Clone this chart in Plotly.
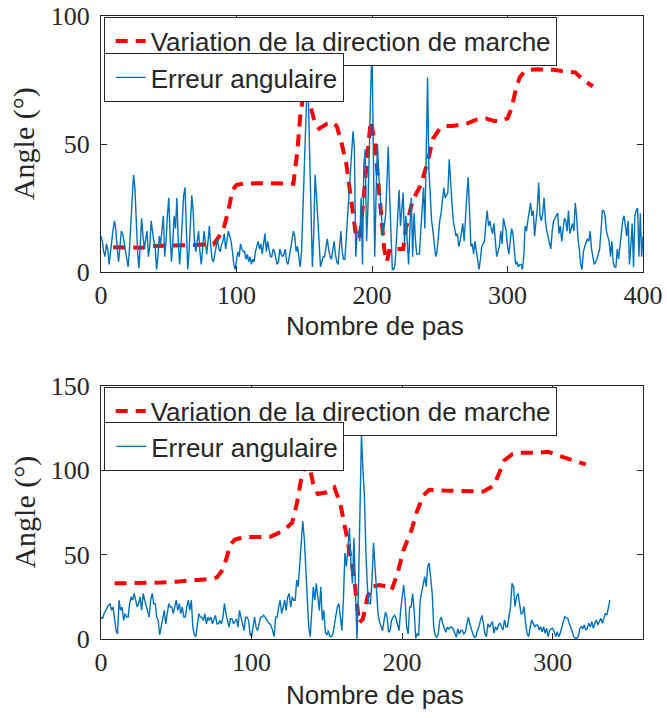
import plotly.graph_objects as go

# ---------------- data: top panel ----------------
top_steps = list(range(0, 401))
top_error = [
    14, 12, 8, 6, 11, 9, 3, 8, 11, 17, 20, 16, 9, 4, 10, 16, 15, 12, 9, 5,
    2, 9, 18, 26, 38, 33, 19, 8, 1.5, 12, 21, 14, 9, 13, 16, 6, 10, 20, 15, 12,
    10, 1, 6, 14, 11, 18, 22, 6, 12, 22, 29, 14, 4, 12, 22, 17, 29, 12, 3, 10,
    20, 30, 33, 12, 1, 8, 18, 30, 24, 11, 8, 13, 16, 8, 3, 9, 16, 12, 7, 12,
    18, 10, 5, 4, 8, 10, 13, 9, 8, 11, 12, 15, 9, 12, 16, 14, 12, 8, 3, 1,
    4, 8, 6, 11, 9, 8, 8, 5, 7, 4, 6, 3, 5, 4, 8, 10, 12, 9, 11, 7,
    12, 15, 8, 12, 9, 6, 6, 9, 8, 5, 3, 4, 9, 7, 6, 7, 9, 4, 3, 6,
    9, 12, 16, 14, 8, 10, 5, 2, 8, 23, 42, 60, 72, 68, 45, 20, 2, 15, 38, 30,
    20, 8, 2, 4, 6, 6, 10, 13, 9, 6, 5, 8, 12, 7, 4, 3, 10, 16, 8, 5,
    5, 14, 20, 30, 36, 45, 55, 48, 6, 15, 16, 12, 29, 3, 42, 48, 12, 25, 55, 70,
    88, 40, 6, 30, 50, 38, 29, 20, 14, 18, 22, 35, 49, 30, 16, 1, 1, 3, 12, 23,
    32, 18, 24, 31, 11, 22, 12, 3, 17, 29, 6, 23, 13, 7, 7, 7, 16, 25, 33, 17,
    47, 76, 40, 29, 20, 16, 10, 6, 8, 16, 20, 23, 28, 33, 29, 30, 31, 44, 33, 27,
    20, 16, 14, 15, 10, 12, 15, 19, 12, 23, 30, 37, 24, 10, 11, 7, 12, 8, 3, 1,
    5, 10, 11, 12, 19, 24, 18, 20, 17, 15, 19, 11, 6, 8, 10, 16, 11, 21, 18, 16,
    10, 7, 12, 17, 15, 7, 3, 4, 2, 3, 3, 1, 6, 18, 16, 20, 23, 27, 22, 24,
    14, 19, 25, 35, 22, 20, 23, 29, 20, 16, 14, 12, 9, 16, 20, 21, 22, 23, 15, 18,
    12, 18, 21, 20, 16, 24, 15, 17, 19, 16, 27, 22, 13, 9, 3, 1, 8, 10, 12, 13,
    12, 16, 9, 6, 3, 4, 5, 7, 9, 16, 24, 24, 22, 16, 14, 12, 6, 12, 4, 2,
    2, 9, 5, 10, 16, 20, 22, 17, 14, 20, 3, 10, 19, 2, 22, 24, 25, 6, 23, 6,
    14,
]
top_dir_steps = [9, 20, 30, 40, 50, 60, 70, 83, 90, 94, 97, 100, 105, 115, 125, 135, 142,
                 145, 147, 150, 154, 158, 161, 167, 171, 174, 177, 181, 185, 188, 191,
                 194, 197, 199, 202, 204, 206, 209, 211, 213, 218, 223, 225, 230, 236,
                 241, 245, 250, 254, 259, 265, 270, 277, 284, 290, 295, 300, 303, 306,
                 309, 312, 317, 322, 328, 334, 340, 346, 350, 356, 363]
top_dir_vals = [9.7, 9.7, 9.5, 10.2, 10.3, 10.5, 10.6, 10.8, 16, 24, 32, 34, 34.6, 34.8,
                34.7, 34.6, 34.5, 47.7, 60.7, 71.8, 66, 58, 56, 58, 58.5, 57, 51.6, 42.4,
                25.4, 15, 13, 30, 47, 59, 51, 38, 25, 9, 4, 9, 9, 9, 17, 28, 34,
                43, 52, 56, 57, 57, 57.5, 58, 59.5, 60, 59, 59, 60, 64, 71, 76, 78, 79,
                79.2, 79.2, 79, 78.5, 78, 78, 75, 72.5]

# ---------------- data: bottom panel ----------------
bot_steps = list(range(0, 339))
bot_error = [
    13, 12, 15, 17, 19, 20, 21, 17, 19, 11, 5, 3, 23, 17, 19, 11, 15, 13, 13, 21,
    25, 23, 27, 23, 19, 21, 25, 17, 27, 23, 19, 17, 13, 23, 27, 21, 21, 13, 11, 2.4,
    7, 13, 17, 9, 15, 21, 19, 19, 15, 19, 23, 17, 21, 15, 19, 13, 13, 19, 23, 17,
    23, 7, 2.4, 1.4, 7, 15, 13, 13, 11, 15, 9, 13, 11, 13, 9, 11, 14, 9, 9, 11,
    9, 13, 21, 15, 11, 7, 12, 12, 9, 11, 12, 7, 17, 13, 9, 5, 13, 13, 11, 3,
    1.4, 9, 13, 7, 5, 9, 13, 13, 14, 13, 11, 10, 9, 8, 5, 1.4, 13, 13, 19, 23,
    15, 19, 23, 17, 25, 27, 19, 25, 23, 23, 35, 31, 43, 55, 70, 60, 40, 23, 7, 1.4,
    19, 31, 23, 33, 25, 17, 31, 11, 17, 4, 2.4, 5, 1.4, 1.4, 3, 8, 13, 19, 21, 13,
    5, 23, 51, 43, 57, 66, 45, 33, 60, 20, 0, 30, 75, 121, 100, 84, 50, 30, 21, 21,
    35, 57, 43, 27, 15, 10, 7, 5, 11, 16, 13, 4, 5, 11, 13, 14, 12, 9, 5, 17,
    23, 32, 23, 7, 3, 19, 19, 27, 17, 0.4, 3, 2, 23, 27, 31, 37, 31, 43, 45, 35,
    27, 7, 2, 1, 3, 11, 13, 9, 7, 4, 7, 6, 7, 7, 6, 4, 1, 6, 3, 5,
    5, 3, 4, 9, 13, 9, 5, 3, 1, 1.4, 5, 7, 11, 14, 9, 3, 1.4, 9, 7, 9,
    10.3, 3.4, 7.3, 5.3, 8.3, 9.3, 7.3, 5.3, 11.3, 7.3, 7.3, 13.2, 19.2, 33, 31, 19.2, 25, 27, 19.2, 15,
    15.2, 19.2, 9.3, 3.4, 1.4, 7.3, 11.3, 9.3, 7.3, 8.3, 8.3, 5.3, 7.3, 4.3, 7.3, 3.4, 6.3, 1.4, 5.3, 6,
    6.3, 4.3, 1.4, 4.3, 1.4, 3.4, 7.3, 11.3, 13.2, 12.5, 12.3, 9.3, 7.3, 4.3, 1.4, 0.4, 0.4, 1.4, 6, 7.3,
    6.3, 8.3, 5.3, 6.3, 9.3, 7.3, 10.3, 6.3, 9.3, 11.3, 8.3, 11, 12.3, 9.3, 13.2, 15.2, 14.2, 19.2, 23,
]
bot_dir_steps = [9, 20, 30, 40, 50, 60, 70, 77, 80, 83, 86, 89, 95, 105, 112, 117, 122, 127,
                 130, 133, 136, 138, 141, 144, 150, 155, 159, 163, 166, 168, 170, 171.5,
                 174, 177, 180, 185, 190, 193, 197, 201, 206, 210, 214, 218, 228, 240,
                 254, 261, 265, 268, 273, 280, 290, 297, 303, 310, 316, 322]
bot_dir_vals = [33, 33, 33.5, 33.5, 34, 34.5, 35.5, 36.5, 40, 47, 56, 59, 60.5, 60.5, 60.5,
                62.5, 65, 69, 80, 95, 104, 104, 92, 86, 87, 90, 80, 62, 48, 37, 21, 9.5,
                12, 25, 31, 32, 31, 29, 39, 53, 64, 76, 85, 88.5, 88, 87.5, 87.5, 91,
                100, 106, 109.5, 110.5, 110.5, 111, 109, 107, 105, 103.5]

name_dir = "Variation de la direction de marche"
name_err = "Erreur angulaire"
top_xticks = [0, 100, 200, 300, 400]
top_yticks = [0, 50, 100]
bot_xticks = [0, 100, 200, 300]
bot_yticks = [0, 50, 100, 150]

RED = "#ff0000"
BLUE = "#0072bd"
DARK = "#262626"
SERIF = "Liberation Serif, Times New Roman, serif"
SANS = "Liberation Sans, Arial, sans-serif"

fig = go.Figure()
fig.add_trace(go.Scatter(x=top_dir_steps, y=top_dir_vals, mode="lines", name=name_dir,
                         line=dict(color=RED, width=4, dash="12px,8px"),
                         xaxis="x", yaxis="y", legend="legend", showlegend=True))
fig.add_trace(go.Scatter(x=top_steps, y=top_error, mode="lines", name=name_err,
                         line=dict(color=BLUE, width=1.4),
                         xaxis="x", yaxis="y", legend="legend2", showlegend=True))
fig.add_trace(go.Scatter(x=bot_dir_steps, y=bot_dir_vals, mode="lines", name=name_dir,
                         line=dict(color=RED, width=4, dash="12px,8px"),
                         xaxis="x2", yaxis="y2", legend="legend3", showlegend=True))
fig.add_trace(go.Scatter(x=bot_steps, y=bot_error, mode="lines", name=name_err,
                         line=dict(color=BLUE, width=1.4),
                         xaxis="x2", yaxis="y2", legend="legend4", showlegend=True))

axis_common = dict(showline=True, linecolor=DARK, linewidth=1, mirror="ticks",
                   ticks="inside", ticklen=6, tickcolor=DARK, showgrid=False,
                   zeroline=False, ticklabeloverflow="allow", automargin=False,
                   tickfont=dict(family=SERIF, size=26, color=DARK))

fig.update_layout(
    width=667, height=718,
    margin=dict(l=101, r=24, t=16, b=79, autoexpand=False),
    showlegend=True,
    paper_bgcolor="white", plot_bgcolor="white",
    xaxis=dict(domain=[0, 1], anchor="y", range=[0, 400], tickvals=top_xticks,
               ticklabelstandoff=0, **axis_common),
    yaxis=dict(domain=[0.589, 1], anchor="x", range=[0, 100], tickvals=top_yticks,
               ticklabelstandoff=5, **axis_common),
    xaxis2=dict(domain=[0, 1], anchor="y2", range=[0, 360], tickvals=bot_xticks,
                ticklabelstandoff=0, **axis_common),
    yaxis2=dict(domain=[0, 0.406], anchor="x2", range=[0, 150], tickvals=bot_yticks,
                ticklabelstandoff=5, **axis_common),
)

legend_common = dict(xanchor="left", yanchor="top", bgcolor="white", bordercolor=DARK,
                     borderwidth=1, indentation=6,
                     font=dict(family=SANS, size=26, color=DARK),
                     itemclick=False, itemdoubleclick=False)
fig.update_layout(
    legend=dict(x=0.005, y=0.999, **legend_common),
    legend2=dict(x=0.005, y=0.9406, **legend_common),
    legend3=dict(x=0.005, y=0.405, **legend_common),
    legend4=dict(x=0.006, y=0.3483, **legend_common),
)

annots = [
    dict(text="Angle (°)", x=-0.142, y=0.7945, textangle=-90),
    dict(text="Angle (°)", x=-0.142, y=0.203, textangle=-90),
]
for a in annots:
    fig.add_annotation(xref="paper", yref="paper", xanchor="center", yanchor="middle",
                       showarrow=False, font=dict(family=SERIF, size=30, color=DARK), **a)
for ty in [0.502, -0.090]:
    fig.add_annotation(text="Nombre de pas", xref="paper", yref="paper", x=0.505, y=ty,
                       xanchor="center", yanchor="middle", showarrow=False,
                       font=dict(family=SANS, size=26, color=DARK))

# remove the browser's default 8px page margin so the figure fills the window exactly
fig.write_html("out.html",
               config={"displayModeBar": False},
               post_script="document.body.style.margin='0';document.body.style.overflow='hidden';")
